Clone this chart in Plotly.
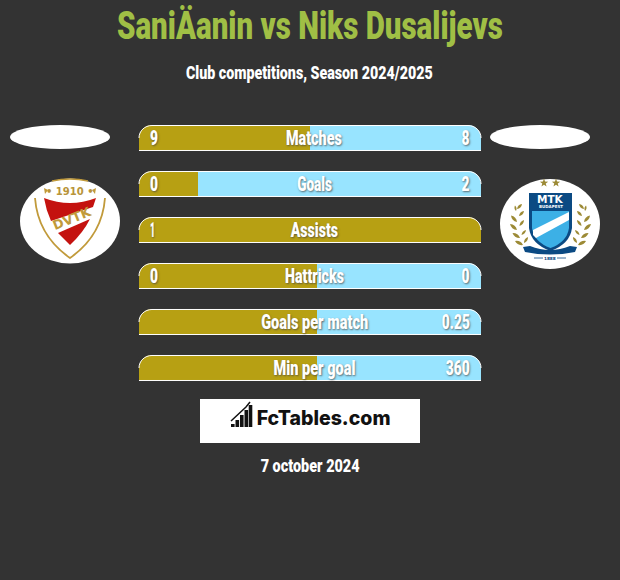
import json
import math
import plotly.graph_objects as go

W, H = 620, 580
BG = "#333333"
GOLD = "#b7a013"
BLUE = "#98e4ff"
WHITE = "#ffffff"
GREEN = "#a0bf45"
NAVY = "#0b4a83"
LAUREL = "#9c8a35"
BADGE_GOLD = "#c19a3a"
BADGE_RED = "#c4120f"

categories = ["Matches", "Goals", "Assists", "Hattricks", "Goals per match", "Min per goal"]
left_labels = ["9", "0", "1", "0", "", ""]
right_labels = ["8", "2", "", "0", "0.25", "360"]
left_share = [50, 17.2, 100, 52, 52, 52]
right_share = [50, 82.8, 0, 48, 48, 48]

title_text = "SaniÄanin vs Niks Dusalijevs"
subtitle_text = "Club competitions, Season 2024/2025"
date_text = "7 october 2024"
brand_text = "FcTables.com"

# drawn widths of the condensed labels, in pixels
NAME_WIDTH = {"Matches": 56, "Goals": 35, "Assists": 48, "Hattricks": 59,
              "Goals per match": 107, "Min per goal": 82}
VALUE_WIDTH = {"9": 8, "8": 8, "0": 8, "1": 5, "2": 8, "0.25": 28, "360": 24}

HEAVY = "Roboto"
BAR_L, BAR_R = 139, 481
ROW_TOP, ROW_H, BAR_H = 115, 46, 26


def X(p):
    return p / W


def Y(p):
    return 1 - p / H


def path(*parts):
    out = []
    for part in parts:
        if isinstance(part, str):
            out.append(part)
        else:
            out.append(f"{X(part[0]):.5f},{Y(part[1]):.5f}")
    return " ".join(out)


def poly(points):
    return "M" + " L".join(f"{X(a):.5f},{Y(b):.5f}" for a, b in points) + " Z"


def ellipse(cx, cy, rx, ry, color):
    return dict(type="circle", xref="paper", yref="paper", x0=X(cx - rx), x1=X(cx + rx),
                y0=Y(cy + ry), y1=Y(cy - ry), fillcolor=color, line_width=0, layer="above")


def fill(d, color, line=None, lw=0):
    return dict(type="path", xref="paper", yref="paper", path=d, fillcolor=color,
                line=dict(color=line or color, width=lw), layer="above")


def stroke(d, color, lw=1):
    return dict(type="path", xref="paper", yref="paper", path=d,
                line=dict(color=color, width=lw), layer="above")


def leaf(tip, base, color, wide=0.36):
    tx, ty = tip
    bx, by = base
    mx, my = (tx + bx) / 2, (ty + by) / 2
    nx, ny = -(by - ty) * wide, (bx - tx) * wide
    return fill(path("M", tip, "Q", (mx + nx, my + ny), base, "Q", (mx - nx, my - ny), tip, "Z"), color)


fig = go.Figure()
fig.add_bar(y=categories, x=left_share, orientation="h", marker=dict(color=GOLD, line_width=0),
            hoverinfo="skip", showlegend=False)
fig.add_bar(y=categories, x=right_share, orientation="h", marker=dict(color=BLUE, line_width=0),
            hoverinfo="skip", showlegend=False)

shapes = []
R = 13
K = 0.55 * R
for i in range(len(categories)):
    t = ROW_TOP + ROW_H * i + (ROW_H - BAR_H) / 2
    b = t + BAR_H
    l, r = BAR_L, BAR_R
    shapes.append(fill(path("M", (l, t), "L", (l + R, t), "C", (l + R - K, t), (l, t + R - K), (l, t + R), "Z"), BG))
    shapes.append(fill(path("M", (r, t), "L", (r - R, t), "C", (r - R + K, t), (r, t + R - K), (r, t + R), "Z"), BG))
    shapes.append(stroke(path("M", (l, t + R), "C", (l, t + R - K), (l + R - K, t + .5), (l + R, t + .5),
                              "L", (r - R, t + .5), "C", (r - R + K, t + .5), (r, t + R - K), (r, t + R)), WHITE))
    shapes.append(stroke(path("M", (l, b - .5), "L", (r, b - .5)), WHITE))

# side ovals
shapes += [ellipse(60, 137, 50, 12, WHITE), ellipse(540, 137, 50, 12, WHITE)]

# left badge
shapes.append(ellipse(70, 221, 50, 42.5, WHITE))
shapes.append(stroke(path("M", (52, 181), "Q", (70, 177), (88, 181)), BADGE_GOLD, 1.4))
shapes.append(stroke(path("M", (35, 198), "C", (37, 224), (50, 244), (70, 258),
                          "C", (90, 244), (103, 224), (105, 198)), BADGE_GOLD, 1.8))
shapes.append(fill(poly([(44, 188), (48, 190), (45, 194)]), BADGE_GOLD))
shapes.append(fill(poly([(96, 188), (92, 190), (95, 194)]), BADGE_GOLD))
shapes.append(fill(path("M", (44, 198), "Q", (70, 208), (96, 198), "L", (93, 207),
                        "L", (51, 221), "Q", (46, 210), (44, 198), "Z"), BADGE_RED))
shapes.append(fill(path("M", (90, 219), "L", (58, 233), "L", (70, 245), "Q", (83, 233), (90, 219), "Z"), BADGE_RED))

# right badge
shapes.append(ellipse(550, 224, 50, 45, WHITE))
shapes.append(fill(path("M", (529, 193), "L", (572, 193), "L", (572, 228),
                        "Q", (570, 244), (550.5, 251), "Q", (531, 244), (529, 228), "Z"), NAVY))
shapes.append(fill(path("M", (532, 211), "L", (569, 211), "L", (569, 228),
                        "Q", (567, 242), (550.5, 248), "Q", (534, 242), (532, 228), "Z"), "#3cb0e6"))
shapes.append(fill(poly([(533, 230), (569, 212), (569, 220), (536, 238), (533, 235)]), WHITE))
shapes.append(fill(path("M", (523, 247), "L", (530, 246), "Q", (550, 254), (570, 246), "L", (577, 247),
                        "L", (575, 252), "Q", (550, 257), (525, 252), "Z"), NAVY))
shapes.append(stroke(path("M", (534, 258), "L", (543, 258)), NAVY, 0.8))
shapes.append(stroke(path("M", (557, 258), "L", (566, 258)), NAVY, 0.8))
for (ax, ay), (bx, by) in [((522, 204), (517, 209)), ((515, 205.5), (516, 211)), ((524, 211), (519, 216)),
                           ((511, 215.5), (517, 222)), ((524, 220), (519.5, 226)), ((510, 224), (517, 230)),
                           ((526, 230), (521.5, 235)), ((512.5, 233), (520, 238)), ((528, 237), (524, 243)),
                           ((515, 241), (523, 245))]:
    shapes.append(leaf((ax, ay), (bx, by), LAUREL))
    shapes.append(leaf((1100 - ax + 1, ay), (1100 - bx + 1, by), LAUREL))
for sx in (544, 556):
    o, n = 4.4, 1.8
    pts = []
    for a in range(10):
        rad = o if a % 2 == 0 else n
        th = -math.pi / 2 + a * math.pi / 5
        pts.append((sx + rad * math.cos(th), 183 + rad * math.sin(th)))
    shapes.append(fill(poly(pts), LAUREL))

# brand box
shapes.append(dict(type="rect", xref="paper", yref="paper", x0=X(200), x1=X(420), y0=Y(443), y1=Y(399),
                   fillcolor=WHITE, line_width=0, layer="above"))
for bx, bt in [(231, 424), (235.5, 420), (240, 415), (244.5, 410), (248.7, 405)]:
    shapes.append(fill(poly([(bx, 427), (bx + 3.6, 427), (bx + 3.6, bt), (bx, bt)]), "#111111"))
shapes.append(stroke(path("M", (231, 421), "L", (246, 407), "L", (250, 402)), "#111111", 1.5))

squeeze = {}
notes = []


def note(text, x, y, size, color=WHITE, family=HEAVY, weight=900, shadow=None, anchor="center", angle=0, width=None):
    font = dict(family=family, size=size, color=color, weight=weight)
    if shadow:
        font["shadow"] = shadow
    if width:
        squeeze[len(notes)] = [width, anchor]
    notes.append(dict(text=text, x=X(x), y=Y(y), xref="paper", yref="paper", showarrow=False,
                      font=font, xanchor=anchor, yanchor="middle", textangle=angle))


note(title_text, 310, 26, 39, GREEN, width=386)
note(subtitle_text, 309.5, 73, 18.5, width=247)
note(date_text, 309.5, 465, 19, width=99)
note(brand_text, 323.5, 418, 20, "#111111", "Inter", 800, width=134)
note("• 1910 •", 70, 191, 10, "#b8943a", "DejaVu Sans", 700)
note("DVTK", 72, 219, 13, BADGE_GOLD, "DejaVu Sans", 700, angle=-22)
note("MTK", 550.5, 199, 10.5, WHITE, "DejaVu Sans", 700)
note("BUDAPEST", 550.5, 206.5, 4, WHITE, "DejaVu Sans", 700)
note("1888", 550, 258, 4.2, NAVY, "DejaVu Sans", 700)

SH = "1px 1px 2px rgba(70,70,70,0.75)"
for i, name in enumerate(categories):
    cy = ROW_TOP + ROW_H * i + ROW_H / 2
    note(name, 314.5, cy, 20, shadow=SH, width=NAME_WIDTH[name])
    if left_labels[i]:
        note(left_labels[i], 148, cy, 20, shadow=SH, anchor="left", width=VALUE_WIDTH[left_labels[i]])
    if right_labels[i]:
        note(right_labels[i], 472, cy, 20, shadow=SH, anchor="right", width=VALUE_WIDTH[right_labels[i]])

fig.update_layout(
    width=W, height=H, margin=dict(l=0, r=0, t=0, b=0),
    paper_bgcolor=BG, plot_bgcolor=BG, barmode="stack", bargap=1 - BAR_H / ROW_H,
    xaxis=dict(domain=[X(BAR_L), X(BAR_R)], range=[0, 100], visible=False, fixedrange=True),
    yaxis=dict(domain=[Y(ROW_TOP + ROW_H * 6), Y(ROW_TOP)], autorange="reversed", visible=False, fixedrange=True),
    shapes=shapes, annotations=notes,
)

post = """
document.body.style.margin = '0';
document.body.style.background = '%s';
var squeeze = %s;
function applySqueeze() {
  document.querySelectorAll('.annotation').forEach(function (a) {
    var spec = squeeze[a.getAttribute('data-index')];
    var t = a.querySelector('.annotation-text');
    if (!spec || !t || t.getAttribute('data-done')) return;
    var b = t.getBBox();
    var pivot = spec[1] === 'left' ? b.x : spec[1] === 'right' ? b.x + b.width : b.x + b.width / 2;
    var s = spec[0] / b.width;
    t.setAttribute('transform', 'translate(' + pivot + ',0) scale(' + s + ',1) translate(' + (-pivot) + ',0)');
    t.setAttribute('data-done', '1');
  });
}
applySqueeze();
""" % (BG, json.dumps(squeeze))
fig.write_html("out.html", config={"displayModeBar": False}, post_script=post)
